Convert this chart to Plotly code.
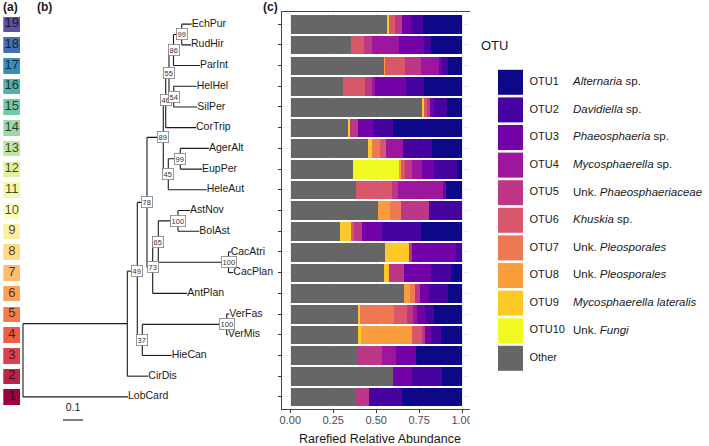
import plotly.graph_objects as go
from plotly.colors import sample_colorscale
from plotly.colors import diverging

# ---------------- DATA ----------------
# Phylogeny: node id, parent, branch length, bootstrap support
NODE_IDS = ["root", "A", "n49", "n78", "n89", "n46", "n55", "n86", "n99a", "EchPur", "RudHir",
            "ParInt", "n54", "HelHel", "SilPer", "CorTrip", "n45", "n99b", "AgerAlt", "EupPer",
            "HeleAut", "n73", "n65", "n100a", "AstNov", "BolAst", "n100b", "CacAtri", "CacPlan",
            "AntPlan", "n37", "nVer", "VerFas", "VerMis", "HieCan", "CirDis", "LobCard"]
PARENTS = [None, "root", "A", "n49", "n78", "n89", "n46", "n55", "n86", "n99a", "n99a",
           "n86", "n55", "n54", "n54", "n46", "n89", "n45", "n99b", "n99b",
           "n45", "n78", "n73", "n65", "n100a", "n100a", "n65", "n100b", "n100b",
           "n73", "n49", "n37", "nVer", "nVer", "n37", "A", "root"]
BRANCH_LEN = [0.0, 0.5215, 0.05, 0.0485, 0.0815, 0.012, 0.0165, 0.0225, 0.041, 0.05, 0.0465,
              0.1325, 0.0235, 0.115, 0.118, 0.1515, 0.025, 0.06, 0.1435, 0.1085,
              0.192, 0.0285, 0.028, 0.0985, 0.06, 0.1065, 0.351, 0.011, 0.024,
              0.173, 0.025, 0.422, 0.013, 0.0065, 0.147, 0.105, 0.525]
SUPPORT = ["", "", "49", "78", "89", "46", "55", "86", "99", "", "",
           "", "54", "", "", "", "45", "99", "", "",
           "", "73", "65", "100", "", "", "100", "", "",
           "", "37", "100", "", "", "", "", ""]

SCALE_X = 0.2
SCALE_LEN = 0.1
SCALE_LABEL = "0.1"

# Host numbers (panel a), top to bottom
HOST_NUMBERS = list(range(19, 0, -1))

# Stacked abundances per host (rows top to bottom, same order as tree tips)
SERIES = ["Other", "OTU10", "OTU9", "OTU8", "OTU7", "OTU6", "OTU5", "OTU4", "OTU3", "OTU2", "OTU1"]
Other = [0.56, 0.353, 0.546, 0.305, 0.768, 0.334, 0.449, 0.361, 0.381, 0.507, 0.287, 0.55, 0.546, 0.66, 0.394, 0.39, 0.39, 0.598, 0.383]
OTU10 = [0, 0, 0, 0, 0, 0, 0, 0.27, 0, 0, 0, 0, 0, 0, 0, 0, 0, 0, 0]
OTU9 = [0.015, 0, 0, 0, 0.008, 0.012, 0.027, 0, 0, 0, 0.064, 0.139, 0.029, 0, 0.01, 0.02, 0, 0, 0]
OTU8 = [0, 0, 0.006, 0, 0, 0, 0, 0.012, 0, 0.072, 0, 0, 0, 0.037, 0, 0.299, 0, 0, 0]
OTU7 = [0, 0, 0, 0, 0, 0, 0.044, 0, 0, 0.062, 0, 0, 0, 0.027, 0.2, 0, 0, 0, 0]
OTU6 = [0.03, 0.074, 0.112, 0.126, 0.015, 0, 0.033, 0.023, 0.207, 0, 0.02, 0, 0, 0, 0.075, 0.054, 0, 0, 0]
OTU5 = [0.045, 0.045, 0.093, 0.041, 0.02, 0.048, 0, 0.043, 0.039, 0.165, 0.043, 0.02, 0.083, 0.031, 0.035, 0.02, 0.14, 0, 0.073]
OTU4 = [0, 0.159, 0.107, 0.019, 0, 0, 0.101, 0.054, 0.26, 0, 0, 0, 0, 0, 0.02, 0, 0.082, 0, 0]
OTU3 = [0.05, 0.146, 0.019, 0.179, 0.025, 0.088, 0, 0.072, 0.02, 0, 0.116, 0.252, 0.159, 0.053, 0.05, 0.035, 0.12, 0.107, 0]
OTU2 = [0.07, 0.042, 0.034, 0.107, 0.075, 0.116, 0.171, 0.132, 0, 0.194, 0.227, 0.039, 0.119, 0.107, 0.05, 0.056, 0, 0.178, 0.191]
OTU1 = [0.23, 0.181, 0.083, 0.223, 0.089, 0.402, 0.175, 0.033, 0.093, 0, 0.243, 0, 0.064, 0.085, 0.166, 0.126, 0.268, 0.117, 0.353]
SERIES_VALUES = [Other, OTU10, OTU9, OTU8, OTU7, OTU6, OTU5, OTU4, OTU3, OTU2, OTU1]

LEGEND_IDS = ["OTU1", "OTU2", "OTU3", "OTU4", "OTU5", "OTU6", "OTU7", "OTU8", "OTU9", "OTU10", "Other"]
LEGEND_TAXA = ["<i>Alternaria</i> sp.", "<i>Davidiella</i> sp.", "<i>Phaeosphaeria</i> sp.",
               "<i>Mycosphaerella</i> sp.", "Unk. <i>Phaeosphaeriaceae</i>", "<i>Khuskia</i> sp.",
               "Unk. <i>Pleosporales</i>", "Unk. <i>Pleosporales</i>", "<i>Mycosphaerella lateralis</i>",
               "Unk. <i>Fungi</i>", ""]
OTU_COLORS = {"OTU1": "#0D0887", "OTU2": "#47039F", "OTU3": "#7301A8", "OTU4": "#9C179E",
              "OTU5": "#BD3786", "OTU6": "#D8576B", "OTU7": "#ED7953", "OTU8": "#FA9E3B",
              "OTU9": "#FDC926", "OTU10": "#F0F921", "Other": "#666666"}

X_TICKS = [0, 0.25, 0.5, 0.75, 1.0]
X_TICK_LABELS = ["0.00", "0.25", "0.50", "0.75", "1.00"]

# ---------------- LAYOUT CONSTANTS ----------------
W, H = 709, 446
FONT = "Liberation Sans, Arial, Helvetica, sans-serif"
PT, PB = 11.7, 409.3            # bar panel top/bottom (px)
PL, PR = 281.7, 470.7           # bar panel left/right (px)
NROW = len(Other)
Y_LO, Y_HI = 0.4, NROW + 0.6
ROW_PX = (PB - PT) / (Y_HI - Y_LO)
TREE_PX_UNIT = 200.0
ROOT_PX = 23.0
TREE_RIGHT_PX = 280.0

def fy(px):
    return 1 - px / H

def fx(px):
    return px / W

# ---------------- TREE GEOMETRY ----------------
children = {n: [] for n in NODE_IDS}
blen = dict(zip(NODE_IDS, BRANCH_LEN))
par = dict(zip(NODE_IDS, PARENTS))
for n, p in zip(NODE_IDS, PARENTS):
    if p is not None:
        children[p].append(n)

depth = {}
ypos = {}
tips = []

def walk(n, d):
    depth[n] = d + blen[n]
    for c in children[n]:
        walk(c, depth[n])
    if not children[n]:
        tips.append(n)

walk("root", 0.0)
for i, t in enumerate(tips):
    ypos[t] = NROW - i

def set_y(n):
    if children[n]:
        ys = [set_y(c) for c in children[n]]
        ypos[n] = (min(ys) + max(ys)) / 2
    return ypos[n]

set_y("root")

lx, ly = [], []
for n in NODE_IDS:
    p = par[n]
    if p is not None:
        lx += [depth[p], depth[n], None]
        ly += [ypos[n], ypos[n], None]
    if children[n]:
        cy = [ypos[c] for c in children[n]]
        lx += [depth[n], depth[n], None]
        ly += [min(cy), max(cy), None]

fig = go.Figure()

# tree lines
fig.add_trace(go.Scatter(x=lx, y=ly, mode="lines", line=dict(color="#1a1a1a", width=1.1),
                         xaxis="x2", yaxis="y2", hoverinfo="skip", showlegend=False))
# tip labels
fig.add_trace(go.Scatter(x=[depth[t] for t in tips], y=[ypos[t] for t in tips], mode="text",
                         text=tips, textposition="middle right",
                         textfont=dict(size=10.5, color="#1a1a1a", family=FONT),
                         xaxis="x2", yaxis="y2", hoverinfo="skip", showlegend=False))
# scale bar
SCALE_Y = Y_LO - (420 - PB) / ROW_PX
fig.add_trace(go.Scatter(x=[SCALE_X, SCALE_X + SCALE_LEN], y=[SCALE_Y, SCALE_Y], mode="lines",
                         line=dict(color="#1a1a1a", width=1.1), xaxis="x2", yaxis="y2",
                         hoverinfo="skip", showlegend=False))
fig.add_trace(go.Scatter(x=[SCALE_X + SCALE_LEN / 2], y=[SCALE_Y + 11.5 / ROW_PX], mode="text",
                         text=[SCALE_LABEL], textfont=dict(size=10.5, color="#1a1a1a", family=FONT),
                         xaxis="x2", yaxis="y2", hoverinfo="skip", showlegend=False))

annotations = []
for n, s in zip(NODE_IDS, SUPPORT):
    if s:
        annotations.append(dict(x=depth[n], y=ypos[n], xref="x2", yref="y2", text=s, showarrow=False,
                                font=dict(size=7.5, color="#333333", family=FONT), bgcolor="white",
                                bordercolor="#808080", borderwidth=0.8, borderpad=0.8))

# panel (a) host boxes
host_colors = sample_colorscale(diverging.Spectral, [i / (NROW - 1) for i in range(NROW)])
rows_y = [NROW - i for i in range(NROW)]
fig.add_trace(go.Bar(x=[1] * NROW, y=rows_y, orientation="h", width=0.75,
                     marker=dict(color=[host_colors[h - 1] for h in HOST_NUMBERS], line=dict(width=0)),
                     xaxis="x3", yaxis="y3", hoverinfo="skip", showlegend=False))
fig.add_trace(go.Scatter(x=[0.5] * NROW, y=rows_y, mode="text", text=[str(h) for h in HOST_NUMBERS],
                         textfont=dict(size=13, color="rgba(0,0,0,0.72)", family=FONT),
                         xaxis="x3", yaxis="y3", hoverinfo="skip", showlegend=False))

# panel (c) stacked bars
for name, vals in zip(SERIES, SERIES_VALUES):
    fig.add_trace(go.Bar(x=vals, y=rows_y, orientation="h", width=0.9, name=name,
                         marker=dict(color=OTU_COLORS[name], line=dict(width=0)),
                         xaxis="x", yaxis="y", hoverinfo="skip", showlegend=False))

# custom legend
LEG_X0 = 470.0
LEG_Y0, LEG_DY = 82.3, 27.6
leg_rng = [(H - LEG_Y0) / LEG_DY, -LEG_Y0 / LEG_DY]
leg_idx = list(range(len(LEGEND_IDS)))
fig.add_trace(go.Scatter(x=[510.5 - LEG_X0] * len(leg_idx), y=leg_idx, mode="markers",
                         marker=dict(symbol="square", size=25, color=[OTU_COLORS[k] for k in LEGEND_IDS],
                                     line=dict(width=0)),
                         xaxis="x4", yaxis="y4", hoverinfo="skip", showlegend=False))
fig.add_trace(go.Scatter(x=[529.5 - LEG_X0] * len(leg_idx), y=leg_idx, mode="text", text=LEGEND_IDS,
                         textposition="middle right", textfont=dict(size=11, color="#1a1a1a", family=FONT),
                         xaxis="x4", yaxis="y4", hoverinfo="skip", showlegend=False))
fig.add_trace(go.Scatter(x=[573 - LEG_X0] * len(leg_idx), y=leg_idx, mode="text", text=LEGEND_TAXA,
                         textposition="middle right", textfont=dict(size=11.5, color="#1a1a1a", family=FONT),
                         xaxis="x4", yaxis="y4", hoverinfo="skip", showlegend=False))
fig.add_trace(go.Scatter(x=[481 - LEG_X0], y=[(47 - LEG_Y0) / LEG_DY], mode="text", text=["OTU"],
                         textposition="middle right", textfont=dict(size=13, color="#1a1a1a", family=FONT),
                         xaxis="x4", yaxis="y4", hoverinfo="skip", showlegend=False))

for lab, px in [("(a)", 10.5), ("(b)", 44.5), ("(c)", 270)]:
    annotations.append(dict(x=fx(px), y=fy(7.5), xref="paper", yref="paper", text="<b>%s</b>" % lab,
                            xanchor="center", yanchor="middle",
                            showarrow=False, font=dict(size=12, color="#1a1a1a", family=FONT)))

annotations.append(dict(x=fx((PL + PR) / 2 + 4), y=fy(438.5), xref="paper", yref="paper",
                        text="Rarefied Relative Abundance", showarrow=False,
                        xanchor="center", yanchor="middle",
                        font=dict(size=12.5, color="#1a1a1a", family=FONT)))

tree_lo = Y_LO - (H - PB) / ROW_PX
noax = dict(visible=False, fixedrange=True)

fig.update_layout(
    width=W, height=H, margin=dict(l=0, r=0, t=0, b=0), paper_bgcolor="white", plot_bgcolor="white",
    barmode="stack", bargap=0, font=dict(family=FONT),
    xaxis=dict(domain=[fx(PL), fx(PR)], range=[-0.05, 1.05], tickvals=X_TICKS, ticktext=X_TICK_LABELS,
               ticks="outside", ticklen=3, tickcolor="#333333", tickfont=dict(size=11, color="#4d4d4d"),
               ticklabelstandoff=-3,
               showline=True, linecolor="#444444", linewidth=1, mirror=True, showgrid=True,
               gridcolor="#ebebeb", zeroline=False, automargin=False, anchor="y"),
    yaxis=dict(domain=[fy(PB), fy(PT)], range=[Y_LO, Y_HI], tickvals=rows_y, showticklabels=False,
               ticks="outside", ticklen=3, tickcolor="#333333", showline=True, linecolor="#444444",
               linewidth=1, mirror=True, showgrid=True, gridcolor="#ebebeb", zeroline=False,
               automargin=False, anchor="x"),
    xaxis2=dict(domain=[0, fx(TREE_RIGHT_PX)], range=[-ROOT_PX / TREE_PX_UNIT, (TREE_RIGHT_PX - ROOT_PX) / TREE_PX_UNIT],
                anchor="y2", **noax),
    yaxis2=dict(domain=[0, fy(PT)], range=[tree_lo, Y_HI], anchor="x2", **noax),
    xaxis3=dict(domain=[fx(3.3), fx(20.3)], range=[0, 1], anchor="y3", **noax),
    yaxis3=dict(domain=[fy(PB), fy(PT)], range=[Y_LO, Y_HI], anchor="x3", **noax),
    xaxis4=dict(domain=[fx(LEG_X0), 1], range=[0, W - LEG_X0], anchor="y4", **noax),
    yaxis4=dict(domain=[0, 1], range=leg_rng, anchor="x4", **noax),
    annotations=annotations,
)

fig.write_html("out.html", config={"displayModeBar": False},
               post_script="document.body.style.margin='0px';document.body.style.overflow='hidden';")
